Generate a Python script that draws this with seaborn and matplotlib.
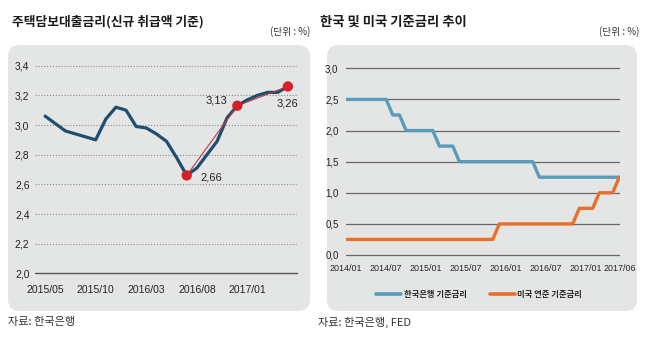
import numpy as np
import pandas as pd
import matplotlib
matplotlib.use("Agg")
import matplotlib.pyplot as plt
from matplotlib.patches import FancyBboxPatch
from matplotlib.lines import Line2D
import seaborn as sns

# ---------------- data ----------------
# Left: mortgage rate (new loans), monthly 2015/05 .. 2017/05
loan_months = ["2015/05", "2015/06", "2015/07", "2015/08", "2015/09", "2015/10", "2015/11",
               "2015/12", "2016/01", "2016/02", "2016/03", "2016/04", "2016/05", "2016/06",
               "2016/07", "2016/08", "2016/09", "2016/10", "2016/11", "2016/12", "2017/01",
               "2017/02", "2017/03", "2017/04", "2017/05"]
loan_rate = [3.06, 3.01, 2.96, 2.94, 2.92, 2.90, 3.04, 3.12, 3.10, 2.99, 2.98, 2.94, 2.89,
             2.78, 2.66, 2.71, 2.80, 2.89, 3.05, 3.13, 3.17, 3.20, 3.22, 3.22, 3.26]
highlight_months = ["2016/07", "2016/12", "2017/05"]
highlight_vals = [2.66, 3.13, 3.26]
highlight_labels = ["2,66", "3,13", "3,26"]
loan_ticks = ["2015/05", "2015/10", "2016/03", "2016/08", "2017/01"]
loan_yticks = [2.0, 2.2, 2.4, 2.6, 2.8, 3.0, 3.2, 3.4]
loan_yticklabels = ["2,0", "2,2", "2,4", "2,6", "2,8", "3,0", "3,2", "3,4"]

# Right: policy rates, monthly 2014/01 .. 2017/06
rate_months = ["2014/01", "2014/02", "2014/03", "2014/04", "2014/05", "2014/06", "2014/07",
               "2014/08", "2014/09", "2014/10", "2014/11", "2014/12", "2015/01", "2015/02",
               "2015/03", "2015/04", "2015/05", "2015/06", "2015/07", "2015/08", "2015/09",
               "2015/10", "2015/11", "2015/12", "2016/01", "2016/02", "2016/03", "2016/04",
               "2016/05", "2016/06", "2016/07", "2016/08", "2016/09", "2016/10", "2016/11",
               "2016/12", "2017/01", "2017/02", "2017/03", "2017/04", "2017/05", "2017/06"]
korea_rate = [2.5, 2.5, 2.5, 2.5, 2.5, 2.5, 2.5, 2.25, 2.25, 2.0, 2.0, 2.0, 2.0, 2.0,
              1.75, 1.75, 1.75, 1.5, 1.5, 1.5, 1.5, 1.5, 1.5, 1.5, 1.5, 1.5, 1.5, 1.5,
              1.5, 1.25, 1.25, 1.25, 1.25, 1.25, 1.25, 1.25, 1.25, 1.25, 1.25, 1.25, 1.25, 1.25]
us_rate = [0.25, 0.25, 0.25, 0.25, 0.25, 0.25, 0.25, 0.25, 0.25, 0.25, 0.25, 0.25, 0.25, 0.25,
           0.25, 0.25, 0.25, 0.25, 0.25, 0.25, 0.25, 0.25, 0.25, 0.5, 0.5, 0.5, 0.5, 0.5,
           0.5, 0.5, 0.5, 0.5, 0.5, 0.5, 0.5, 0.75, 0.75, 0.75, 1.0, 1.0, 1.0, 1.25]
rate_ticks = ["2014/01", "2014/07", "2015/01", "2015/07", "2016/01", "2016/07", "2017/01", "2017/06"]
rate_yticks = [0.0, 0.5, 1.0, 1.5, 2.0, 2.5, 3.0]
rate_yticklabels = ["0,0", "0,5", "1,0", "1,5", "2,0", "2,5", "3,0"]
series_names = ["한국은행 기준금리", "미국 연준 기준금리"]

# ---------------- style ----------------
sns.set_theme(style="white")
KR = ["Noto Sans CJK KR", "DejaVu Sans"]
NUM = ["Liberation Sans", "DejaVu Sans"]
plt.rcParams["font.family"] = KR

W, H = 648, 344
fig = plt.figure(figsize=(W / 100, H / 100), dpi=100)
fig.patch.set_facecolor("white")

def fx(px):
    return px / W

def fy(py):
    return 1 - py / H

panel_col = "#e4e5e5"
for (x0, x1) in [(8, 310), (327, 637)]:
    pad = 10
    box = FancyBboxPatch((fx(x0 + pad), fy(311 - pad)), fx(x1 - x0 - 2 * pad), (311 - 45 - 2 * pad) / H,
                         boxstyle=f"round,pad={pad / W},rounding_size={12 / W}",
                         transform=fig.transFigure, facecolor=panel_col, edgecolor="none",
                         zorder=-10, mutation_aspect=W / H)
    fig.patches.append(box)

# ---------------- left chart ----------------
axL = fig.add_axes([fx(35), fy(276.3), fx(298 - 35), (276.3 - 62.7) / H])
axL.set_facecolor("none")
axL.patch.set_alpha(0)
dfL = pd.DataFrame({"month": loan_months, "rate": loan_rate})
dfL["x"] = np.arange(len(dfL))
idx = {m: i for i, m in enumerate(loan_months)}
dfH = pd.DataFrame({"x": [idx[m] for m in highlight_months], "rate": highlight_vals})

for yv in loan_yticks[1:]:
    axL.axhline(yv, color="#8a8a8a", lw=0.8, ls=(0, (1, 1.6)), zorder=1)
axL.axhline(loan_yticks[0], color="#555555", lw=1.0, zorder=1)

sns.lineplot(data=dfL, x="x", y="rate", ax=axL, color="#1d4e72", lw=2.3, zorder=3)
sns.lineplot(data=dfH, x="x", y="rate", ax=axL, color="#c8323a", lw=0.8, zorder=4)
sns.scatterplot(data=dfH, x="x", y="rate", ax=axL, color="#d42029", s=55, edgecolor="none", zorder=5)

offsets = [(10, -1.5, "left", "center"), (-7, 4, "right", "center"), (0, -12, "center", "center")]
for (xv, yv, lab, (dx, dy, ha, va)) in zip(dfH["x"], dfH["rate"], highlight_labels, offsets):
    axL.annotate(lab, (xv, yv), xytext=(dx, dy), textcoords="offset points", ha=ha, va=va,
                 fontsize=8, family=NUM, color="#222222")

axL.set_xlim(-1, 25)
axL.set_ylim(1.98, 3.42)
axL.set_xticks([idx[t] for t in loan_ticks])
axL.set_xticklabels(loan_ticks, family=NUM, fontsize=7.5, color="#222222")
axL.set_yticks(loan_yticks)
axL.set_yticklabels(loan_yticklabels, family=NUM, fontsize=7.5, color="#222222")
axL.tick_params(axis="x", length=0, pad=6)
axL.tick_params(axis="y", length=0, pad=4)
axL.set_xlabel("")
axL.set_ylabel("")
for s in axL.spines.values():
    s.set_visible(False)

# ---------------- right chart ----------------
axR = fig.add_axes([fx(345.5), fy(258.1), fx(620 - 345.5), (258.1 - 65.2) / H])
axR.set_facecolor("none")
axR.patch.set_alpha(0)
dfR = pd.DataFrame({"month": rate_months * 2,
                    "rate": korea_rate + us_rate,
                    "series": [series_names[0]] * len(rate_months) + [series_names[1]] * len(rate_months)})
ridx = {m: i for i, m in enumerate(rate_months)}
dfR["x"] = dfR["month"].map(ridx)

for yv in rate_yticks:
    axR.axhline(yv, color="#666666", lw=0.9, zorder=1)

pal = {series_names[0]: "#5a9bbd", series_names[1]: "#e8702a"}
sns.lineplot(data=dfR, x="x", y="rate", hue="series", palette=pal, ax=axR, lw=2.4,
             legend=False, zorder=3)

axR.set_xlim(-0.1, 41.1)
axR.set_ylim(-0.05, 3.05)
axR.set_xticks([ridx[t] for t in rate_ticks])
axR.set_xticklabels(rate_ticks, family=NUM, fontsize=6.4, color="#222222")
axR.set_yticks(rate_yticks)
axR.set_yticklabels(rate_yticklabels, family=NUM, fontsize=7, color="#222222")
axR.tick_params(axis="x", length=0, pad=4)
axR.tick_params(axis="y", length=0, pad=5)
axR.set_xlabel("")
axR.set_ylabel("")
for s in axR.spines.values():
    s.set_visible(False)

handles = [Line2D([], [], color=pal[n], lw=2.6) for n in series_names]
fig.legend(handles, series_names, loc="center", bbox_to_anchor=(fx(479), fy(294)), ncol=2,
           frameon=False, handlelength=3.0, columnspacing=2.8, handletextpad=0.3,
           prop={"family": KR, "size": 6, "weight": "bold"})

# ---------------- titles & notes ----------------
fig.text(fx(12), fy(22), "주택담보대출금리(신규 취급액 기준)", fontsize=9.2, fontweight="bold",
         ha="left", va="center", color="#1a1a1a")
fig.text(fx(310), fy(32), "(단위 : %)", fontsize=7, ha="right", va="center", color="#333333")
fig.text(fx(320), fy(22), "한국 및 미국 기준금리 추이", fontsize=9.6, fontweight="bold",
         ha="left", va="center", color="#1a1a1a")
fig.text(fx(639), fy(32), "(단위 : %)", fontsize=7, ha="right", va="center", color="#333333")
fig.text(fx(8), fy(322), "자료: 한국은행", fontsize=8, ha="left", va="center", color="#333333")
fig.text(fx(318), fy(322), "자료: 한국은행, FED", fontsize=8, ha="left", va="center", color="#333333")

fig.savefig("out.png", dpi=100, facecolor="white")
